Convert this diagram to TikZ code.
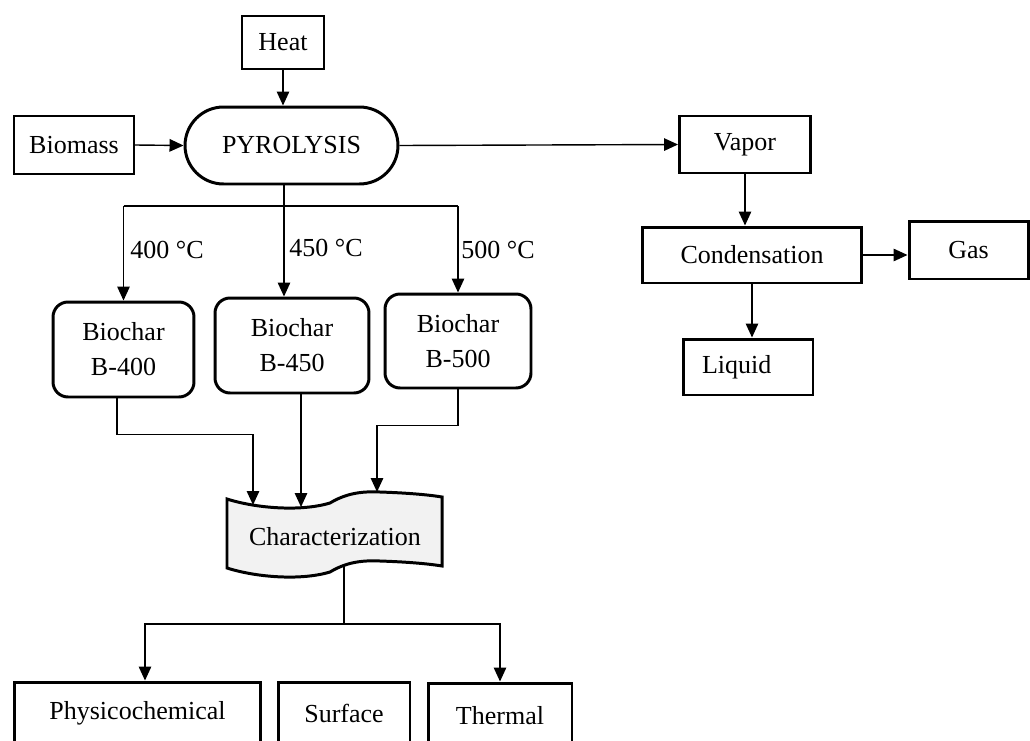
\documentclass[tikz,border=0pt]{standalone}
\usepackage{fontspec}
\setmainfont{Liberation Serif}
\usetikzlibrary{arrows.meta, calc}
\definecolor{InkBlack}{HTML}{000000}
\definecolor{TapeGray}{HTML}{F2F2F2}
\tikzset{
  thinbox/.style={draw=InkBlack, line width=1.1pt, fill=white, align=center, inner sep=2pt, font=\fontsize{14.8}{19.9}\selectfont},
  boldbox/.style={draw=InkBlack, line width=1.7pt, fill=white, align=center, inner sep=2pt, font=\fontsize{14.8}{19.9}\selectfont},
  pillbox/.style={boldbox, rounded corners=0.77cm},
  charbox/.style={boldbox, rounded corners=0.3cm},
  tape/.style={draw=InkBlack, line width=1.7pt, fill=TapeGray},
  templabel/.style={anchor=west, inner sep=0pt, font=\fontsize{14.8}{17}\selectfont},
  arrow/.style={-{Triangle[length=0.28cm, width=0.25cm]}, line width=0.8pt, draw=InkBlack},
  link/.style={line width=0.8pt, draw=InkBlack}
}

\begin{document}
\begin{tikzpicture}[x=0.02cm, y=-0.02cm]
\useasboundingbox (0,0) rectangle (1030,740);

\node[thinbox, minimum width=1.64cm, minimum height=1.06cm] (heat) at (283,42.5) {Heat};
\node[thinbox, minimum width=2.4cm, minimum height=1.16cm] (biomass) at (74,145) {Biomass};
\node[pillbox, minimum width=4.26cm, minimum height=1.54cm] (pyro) at (291.5,145.5) {PYROLYSIS};

\node[boldbox, minimum width=2.62cm, minimum height=1.14cm] (vapor) at (745,144.5) {Vapor};
\node[boldbox, minimum width=4.4cm, minimum height=1.12cm] (cond) at (752,255) {Condensation};
\node[boldbox, minimum width=2.38cm, minimum height=1.16cm] (gas) at (968.5,250) {Gas};
\node[boldbox, minimum width=2.6cm, minimum height=1.12cm] (liquid) at (748,367) {Liquid\hspace*{0.45cm}};

\node[charbox, minimum width=2.82cm, minimum height=1.9cm] (b400) at (123.5,349.5) {Biochar\\B-400};
\node[charbox, minimum width=3.08cm, minimum height=1.9cm] (b450) at (292,345.5) {Biochar\\B-450};
\node[charbox, minimum width=2.92cm, minimum height=1.88cm] (b500) at (458,341) {Biochar\\B-500};

\node[templabel] (t400) at (130,250) {400 °C};
\node[templabel] (t450) at (289,248) {450 °C};
\node[templabel] (t500) at (461,250) {500 °C};

\draw[tape] (227,499) .. controls (255,508) and (300,512) .. (330,503)
  .. controls (345,494) and (360,491) .. (380,492)
  .. controls (410,493) and (430,495) .. (442,497)
  -- (442,566)
  .. controls (430,564) and (410,562) .. (380,561)
  .. controls (360,560) and (345,563) .. (330,572)
  .. controls (300,581) and (255,577) .. (227,568) -- cycle;
\node[inner sep=0pt, font=\fontsize{14.8}{17}\selectfont] (char) at (335,537) {Characterization};

\coordinate (fork) at (284,206);
\coordinate (in1) at (253,505);
\coordinate (in2) at (301,507);
\coordinate (in3) at (377,492);
\coordinate (out) at (344,564);
\coordinate (split) at (344,624);

\node[boldbox, minimum width=4.94cm, minimum height=1.24cm] (phys) at (137.5,713) {Physicochemical};
\node[boldbox, minimum width=2.64cm, minimum height=1.24cm] (surface) at (344,713) {Surface};
\node[boldbox, minimum width=2.88cm, minimum height=1.32cm] (thermal) at (500,716) {Thermal};

\draw[arrow] (heat.south) -- (heat.south |- pyro.north);
\draw[arrow] (biomass.east) -- (pyro.west);
\draw[arrow] (pyro.east) -- (vapor.west);
\draw[arrow] (vapor.south) -- (vapor.south |- cond.north);
\draw[arrow] (cond.east) -- (cond.east -| gas.west);
\draw[arrow] (cond.south) -- (cond.south |- liquid.north);

\draw[link] (b400.north |- fork) -- (b500.north |- fork);
\draw[arrow] (pyro.south -| fork) -- (fork |- b450.north);
\draw[arrow] (b400.north |- fork) -- (b400.north);
\draw[arrow] (b500.north |- fork) -- (b500.north);

\draw[arrow] ([xshift=-0.13cm]b400.south) -- ++(0,36) -| (in1);
\draw[arrow] (b450.south -| in2) -- (in2);
\draw[arrow] (b500.south) -- ++(0,36) -| (in3);

\draw[link] (out) -- (split);
\draw[arrow] (split) -| ([xshift=0.15cm]phys.north);
\draw[arrow] (split) -| (thermal.north);
\end{tikzpicture}
\end{document}
